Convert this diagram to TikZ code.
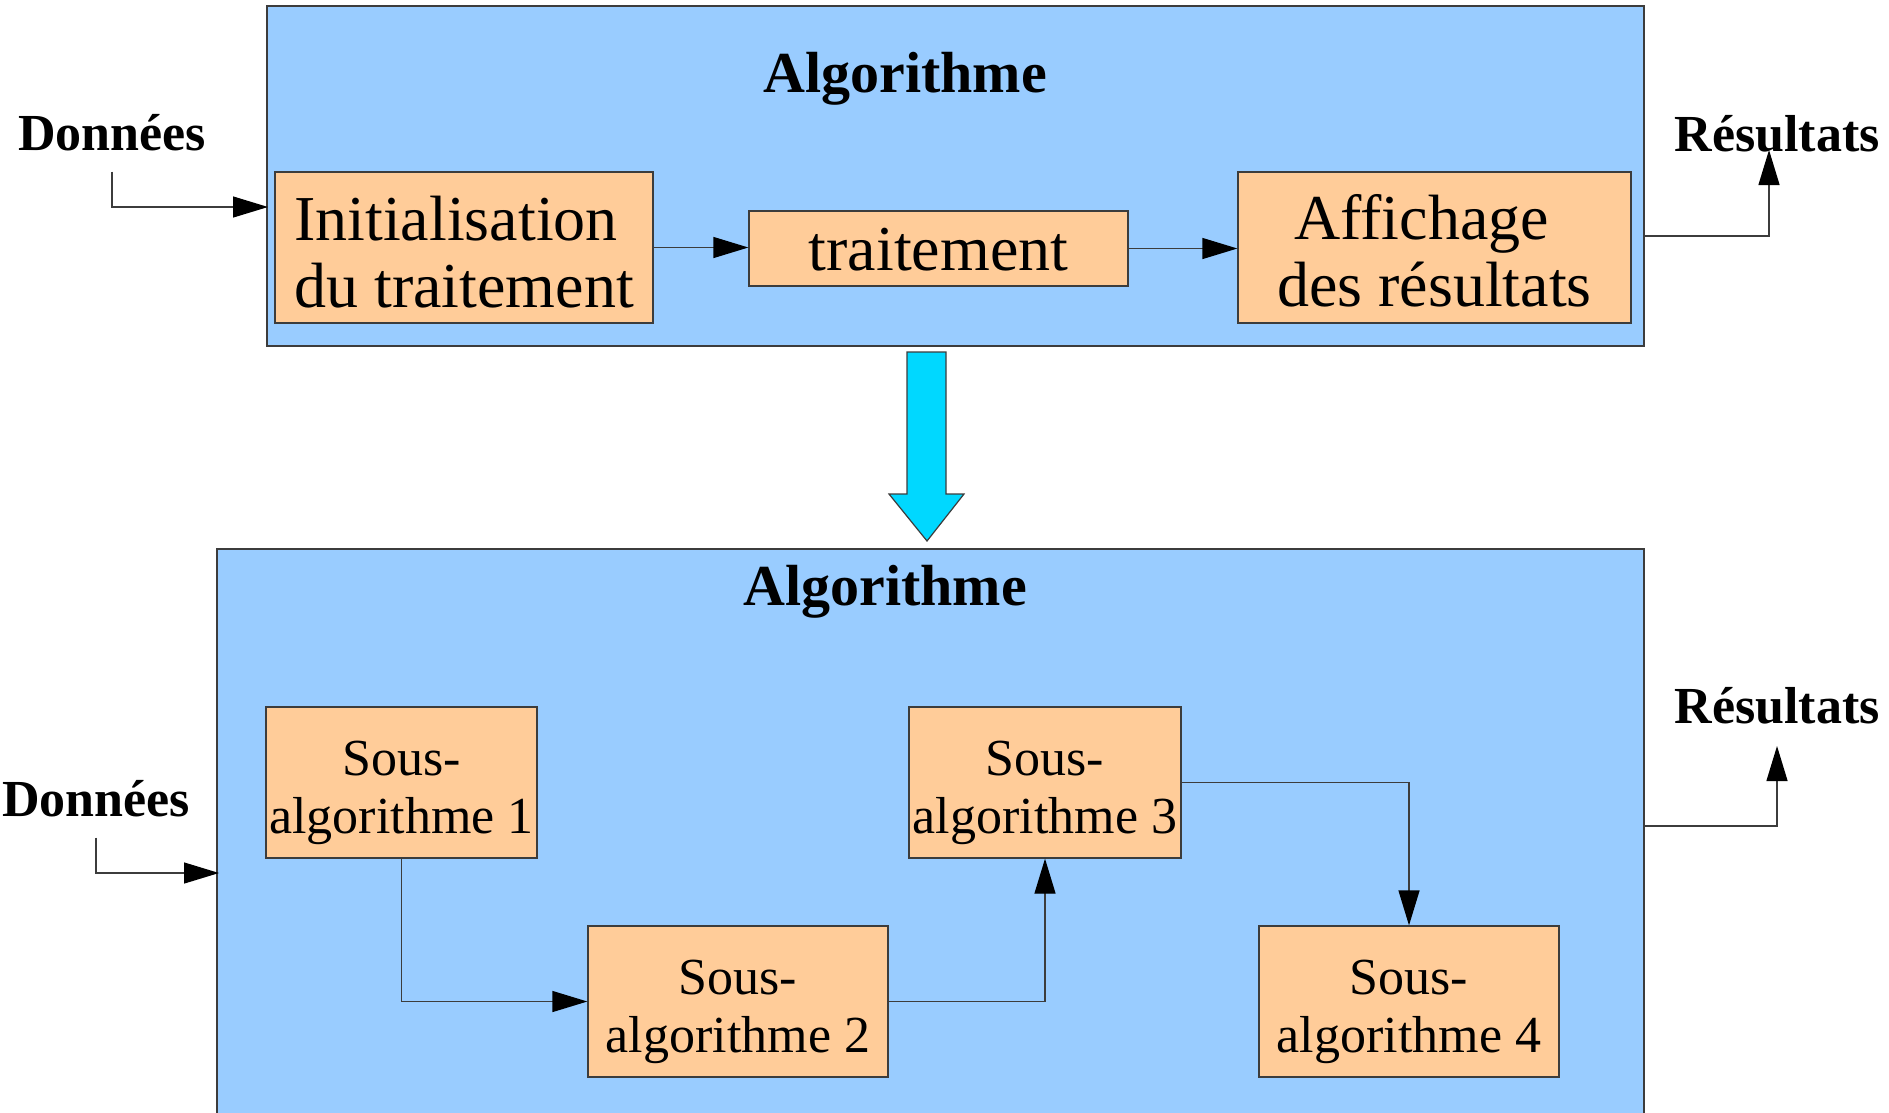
\documentclass[tikz,border=0pt]{standalone}
\usepackage{fontspec}
\setmainfont{Liberation Serif}
\usetikzlibrary{arrows.meta}
\definecolor{algoblue}{RGB}{153,204,255}
\definecolor{stepbeige}{RGB}{255,204,153}
\definecolor{downcyan}{RGB}{0,216,255}
\definecolor{edgegrey}{RGB}{60,60,60}
\begin{document}
\begin{tikzpicture}[x=1pt,y=1pt,yscale=-1,xscale=1,
  bigbox/.style={draw=edgegrey,line width=1.3pt,fill=algoblue,inner sep=0pt},
  stepbox/.style={draw=edgegrey,line width=1.3pt,fill=stepbeige,inner sep=0pt},
  toptext/.style={font=\fontsize{64}{67}\selectfont,inner sep=0pt},
  subtext/.style={font=\fontsize{52}{58}\selectfont,align=center,inner sep=0pt,yshift=-10pt},
  title/.style={font=\fontsize{58}{62}\selectfont\bfseries},
  iolabel/.style={font=\fontsize{52}{56}\selectfont\bfseries,inner sep=0pt,anchor=base},
  link/.style={draw=edgegrey,line width=1.3pt,-{Triangle[length=35pt,width=21pt,color=black]}}]
\useasboundingbox (0,0) rectangle (1889,1112);

%Big boxes
\node (algoA) [bigbox,minimum width=1377pt,minimum height=340pt] at (955.5,176) {};
\node (algoB) [bigbox,minimum width=1427pt,minimum height=568pt] at (930.5,833) {};

% Titles
\node (titleA) [title] at (905,79) {Algorithme};
\node (titleB) [title] at (885,592) {Algorithme};

% Top steps
\node (init) [stepbox,minimum width=378pt,minimum height=151pt] at (464,247.5) {};
\node (initT) [toptext,align=left,yshift=-5pt] at (init) {Initialisation\\du traitement};
\node (trait) [stepbox,minimum width=379pt,minimum height=75pt] at (938.5,248.5) {};
\node (traitT) [toptext,yshift=-1pt] at (trait) {traitement};
\node (affich) [stepbox,minimum width=393pt,minimum height=151pt] at (1434.5,247.5) {};
\node (affichT) [toptext,align=center,yshift=-3pt] at (affich) {Affichage\hspace*{26pt}\\des résultats};

% Bottom sub-algorithms
\node (sa1) [stepbox,minimum width=271pt,minimum height=151pt] at (401.5,782.5) {};
\node (sa1T) [subtext] at (sa1) {Sous-\\algorithme 1};
\node (sa2) [stepbox,minimum width=300pt,minimum height=151pt] at (738,1001.5) {};
\node (sa2T) [subtext] at (sa2) {Sous-\\algorithme 2};
\node (sa3) [stepbox,minimum width=272pt,minimum height=151pt] at (1045,782.5) {};
\node (sa3T) [subtext] at (sa3) {Sous-\\algorithme 3};
\node (sa4) [stepbox,minimum width=300pt,minimum height=151pt] at (1409,1001.5) {};
\node (sa4T) [subtext] at (sa4) {Sous-\\algorithme 4};

% Inputs and outputs
\node (donA) [iolabel] at (112,150) {Données};
\node (resA) [iolabel] at (1777,151) {Résultats};
\node (donB) [iolabel] at (96,816) {Données};
\node (resB) [iolabel] at (1777,723) {Résultats};
\coordinate (inA) at (268,207);
\coordinate (outA) at (1644,236);
\coordinate (tipA) at (1769,150);
\coordinate (inB) at (219,873);
\coordinate (outB) at (1644,826);
\coordinate (tipB) at (1777,746);

%Straight Lines
\draw [link] ([yshift=21pt]donA.south) |- (inA);
\draw [link] (outA) -| (tipA);
\draw [link] ([yshift=21pt]donB.south) |- (inB);
\draw [link] (outB) -| (tipB);
\draw [link] (init.east) -- (init.east -| trait.west);
\draw [link] (trait.east) -- (trait.east -| affich.west);
\draw [link] (sa1) |- (sa2);
\draw [link] (sa2) -| (sa3);
\draw [link] (sa3) -| (sa4);

%Block arrow
\draw [draw=edgegrey,line width=1.2pt,fill=downcyan] (907,352) -- (946,352) -- (946,494) -- (964,494) -- (927,541) -- (889,494) -- (907,494) -- cycle;

\end{tikzpicture}
\end{document}
